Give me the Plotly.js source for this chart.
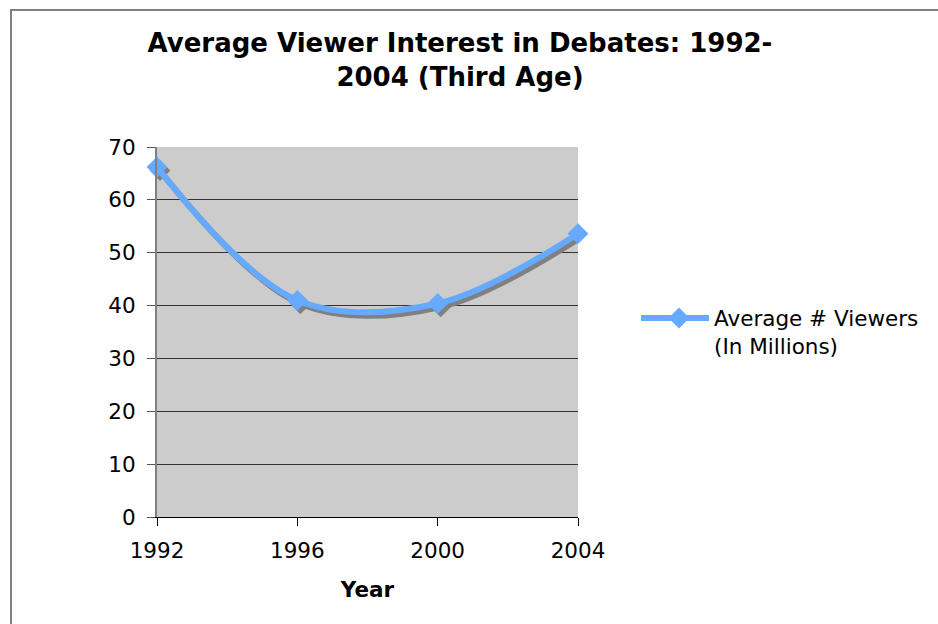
<!DOCTYPE html>
<html><head><meta charset="utf-8">
<script src="https://cdn.plot.ly/plotly-3.0.1.min.js"></script>
<style>
html,body{margin:0;padding:0;background:#fff}
#wrap{position:relative;width:938px;height:624px;overflow:hidden}
#frame{position:absolute;left:10px;top:9px;width:1000px;height:700px;border:2px solid #808080;pointer-events:none}
</style>
</head><body>
<div id="wrap"><div id="chart" style="width:938px;height:624px"></div><div id="frame"></div></div>
<script>
const years = [1992, 1996, 2000, 2004];
const viewers = [66.2, 41.0, 40.4, 53.6];
const seriesName = 'Average # Viewers<br>(In Millions)';
const chartTitle = 'Average Viewer Interest in Debates: 1992-<br>2004 (Third Age)';
const xTitle = 'Year';
const xTicks = [1992, 1996, 2000, 2004];
const yTicks = [0, 10, 20, 30, 40, 50, 60, 70];

const FONT = 'DejaVu Sans, Verdana, sans-serif';
const TS = 21.5;
const LINE_C = '#66aaff', SHADOW_C = '#808080';
const xr = [1992, 2004], yr = [0, 70];
const L = 157, R = 360, T = 147, B = 107;
const plotW = 938 - L - R, plotH = 624 - T - B;
// shadow offset (px) converted to data units
const dx = 3 * (xr[1] - xr[0]) / plotW, dy = 3.5 * (yr[1] - yr[0]) / plotH;
const px2x = p => (p - L) / plotW, px2y = p => (624 - B - p) / plotH;

// shadow on base axes (shifted range, hidden), main series on overlay axes (visible)
const shadow = {
  x: years, y: viewers, xaxis: 'x', yaxis: 'y', type: 'scatter', mode: 'lines+markers',
  line: {shape: 'spline', smoothing: 1, color: SHADOW_C, width: 6},
  marker: {symbol: 'diamond', size: 16, color: SHADOW_C},
  showlegend: false, hoverinfo: 'skip', cliponaxis: false
};
const main = {
  x: years, y: viewers, xaxis: 'x2', yaxis: 'y2', type: 'scatter', mode: 'lines+markers',
  name: seriesName,
  line: {shape: 'spline', smoothing: 1, color: LINE_C, width: 6},
  marker: {symbol: 'diamond', size: 16, color: LINE_C},
  cliponaxis: false
};

const layout = {
  width: 938, height: 624,
  margin: {l: L, r: R, t: T, b: B},
  paper_bgcolor: '#ffffff', plot_bgcolor: '#cccccc',
  font: {family: FONT, size: TS, color: '#000'},
  title: {text: chartTitle, font: {family: FONT, size: 26, color: '#000', weight: 'bold'},
          x: 460 / 938, xanchor: 'center', xref: 'container', y: 1 - 52 / 624, yanchor: 'top', yref: 'container'},
  xaxis: {range: [xr[0] - dx, xr[1] - dx], showgrid: false, zeroline: false, showline: false,
          showticklabels: false, ticks: ''},
  yaxis: {range: [yr[0] + dy, yr[1] + dy], showgrid: false, zeroline: false, showline: false,
          showticklabels: false, ticks: ''},
  xaxis2: {overlaying: 'x', anchor: 'y2', side: 'bottom', range: xr, tickvals: xTicks, ticktext: xTicks.map(String),
          showgrid: false, zeroline: false,
          showline: true, linecolor: '#000', linewidth: 1, ticks: 'outside', ticklen: 8, tickcolor: '#000', tickwidth: 1,
          ticklabelstandoff: 6, tickfont: {size: TS},
          title: {text: xTitle, font: {size: TS, weight: 'bold'}, standoff: 20}},
  yaxis2: {overlaying: 'y', anchor: 'x2', side: 'left', range: yr, tickvals: yTicks, ticktext: yTicks.map(String),
          showgrid: true, gridcolor: '#333333', gridwidth: 1,
          zeroline: false, showline: true, linecolor: '#808080', linewidth: 2, ticks: 'outside', ticklen: 8,
          tickcolor: '#555', tickwidth: 1, ticklabelstandoff: 7, tickfont: {size: TS}},
  showlegend: true,
  legend: {x: px2x(644), xanchor: 'left', y: px2y(332), yanchor: 'middle', itemwidth: 60,
           valign: 'top', font: {size: TS, family: FONT}, bgcolor: 'rgba(0,0,0,0)'},
  shapes: [
    {type: 'line', xref: 'paper', yref: 'paper', x0: px2x(641), x1: px2x(708), y0: px2y(318), y1: px2y(318),
     line: {color: LINE_C, width: 6}, layer: 'below'}
  ],
  hovermode: false
};

Plotly.newPlot('chart', [shadow, main], layout, {staticPlot: true, displayModeBar: false});
</script>
</body></html>
